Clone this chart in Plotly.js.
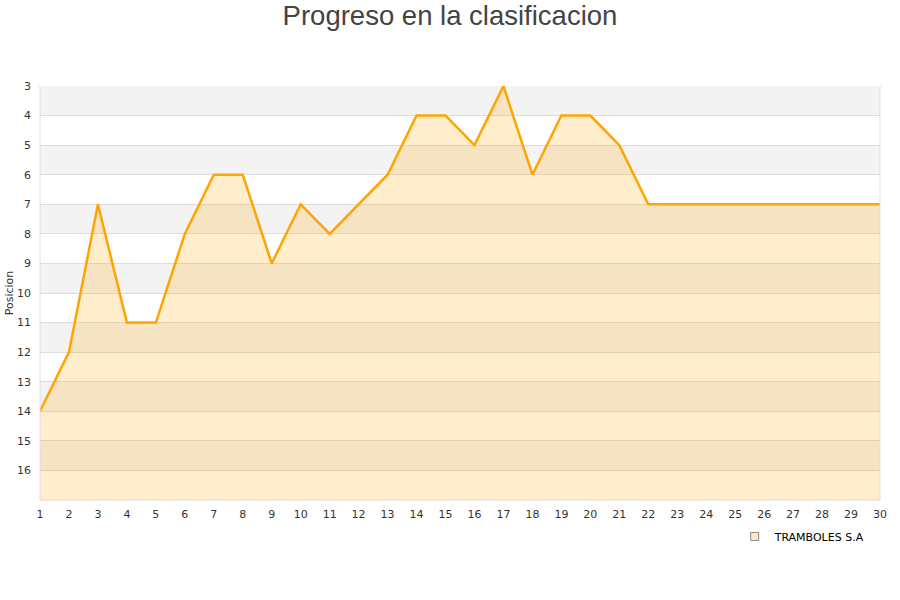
<!DOCTYPE html>
<html>
<head>
<meta charset="utf-8">
<script src="https://cdn.plot.ly/plotly-3.0.1.min.js"></script>
<style>html,body{margin:0;padding:0;background:#fff;}#chart{width:900px;height:600px;}</style>
</head>
<body>
<div id="chart"></div>
<script>
const jornadas = [1,2,3,4,5,6,7,8,9,10,11,12,13,14,15,16,17,18,19,20,21,22,23,24,25,26,27,28,29,30];
const posiciones = [14,12,7,11,11,8,6,6,9,7,8,7,6,4,4,5,3,6,4,4,5,7,7,7,7,7,7,7,7,7];
const yTicks = [3,4,5,6,7,8,9,10,11,12,13,14,15,16];
const bandStarts = [3,5,7,9,11,13,15];
const yTop = 3, yBottom = 17;
const teamName = 'TRAMBOLES S.A';

const baseline = jornadas.map(() => yBottom);

const shapes = bandStarts.map(b => ({
  type: 'rect', xref: 'paper', yref: 'y', x0: 0, x1: 1, y0: b, y1: b + 1,
  fillcolor: '#f3f3f3', line: {width: 0}, layer: 'below'
}));
shapes.push({type:'line', xref:'paper', yref:'paper', x0:0, x1:0, y0:0, y1:1, line:{color:'#dddddd', width:1}});
shapes.push({type:'line', xref:'paper', yref:'paper', x0:1, x1:1, y0:0, y1:1, line:{color:'#dddddd', width:1}});
shapes.push({type:'line', xref:'paper', yref:'paper', x0:0, x1:1, y0:0, y1:0, line:{color:'#dddddd', width:1}});

const traces = [
  {x: jornadas, y: baseline, mode: 'lines', line: {width: 0}, hoverinfo: 'skip', showlegend: false},
  {x: jornadas, y: posiciones, mode: 'lines', fill: 'tonexty', fillcolor: 'rgba(255,165,0,0.2)',
   line: {color: '#FFA500', width: 2.5}, name: teamName, showlegend: false},
  {x: [null], y: [null], mode: 'markers', name: teamName,
   marker: {symbol: 'square', size: 8, color: '#FFE9C4', line: {color: '#888', width: 1}}}
];

const layout = {
  width: 900, height: 600,
  margin: {l: 40, r: 20, t: 86, b: 100},
  paper_bgcolor: '#fff', plot_bgcolor: 'rgba(0,0,0,0)',
  title: {text: 'Progreso en la clasificacion', x: 0.5, xanchor: 'center', y: 0.99, yanchor: 'top',
          font: {family: 'Liberation Sans, Arial, sans-serif', size: 27.5, color: '#444'}},
  font: {family: 'DejaVu Sans, sans-serif', size: 11, color: '#333'},
  xaxis: {range: [1, 30], tickmode: 'array', tickvals: jornadas, showgrid: false, zeroline: false,
          showline: false, ticks: '', ticklabelstandoff: 6, tickfont: {size: 11, color: '#333'}, fixedrange: true},
  yaxis: {range: [yBottom, yTop], tickmode: 'array', tickvals: yTicks, showgrid: true, gridcolor: '#dddddd',
          gridwidth: 1, zeroline: false, showline: false, ticks: '', ticklabelstandoff: 8,
          tickfont: {size: 11, color: '#333'},
          title: {text: 'Posicion', font: {size: 11, color: '#333'}, standoff: 1}, fixedrange: true},
  shapes: shapes,
  showlegend: true,
  legend: {orientation: 'h', x: 0.827, xanchor: 'left', y: -0.053, yanchor: 'top',
           font: {size: 11, color: '#000'}, bgcolor: 'rgba(255,255,255,0)'}
};

Plotly.newPlot('chart', traces, layout, {displayModeBar: false, staticPlot: true});
</script>
</body>
</html>
